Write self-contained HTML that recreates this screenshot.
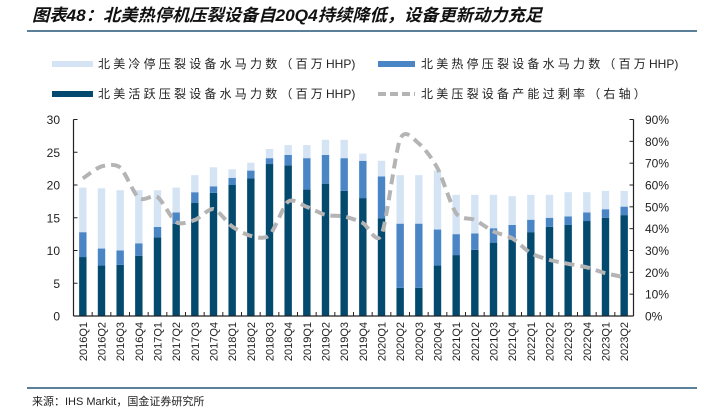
<!DOCTYPE html>
<html><head><meta charset="utf-8"><style>
html,body{margin:0;padding:0;background:#fff;}
svg text{font-family:"Liberation Sans","Noto Sans CJK SC",sans-serif;}
</style></head><body>
<svg id="c" width="704" height="412" viewBox="0 0 704 412" xmlns="http://www.w3.org/2000/svg">
<text x="32" y="21" font-size="17" font-weight="bold" font-style="italic" fill="#111" textLength="510" lengthAdjust="spacingAndGlyphs">图表48：北美热停机压裂设备自20Q4持续降低，设备更新动力充足</text>
<rect x="27" y="30" width="670" height="2" fill="#5b7f99"/>
<g font-size="12" fill="#222">
<rect x="52" y="61" width="41" height="6" fill="#d4e4f4"/>
<text x="98" y="68"><tspan letter-spacing="3.2">北美冷停压裂设备水马力数（百万</tspan>HHP)</text>
<rect x="378" y="61" width="37" height="6" fill="#4a86c5"/>
<text x="421" y="68"><tspan letter-spacing="3.2">北美热停压裂设备水马力数（百万</tspan>HHP)</text>
<rect x="52" y="91" width="41" height="6" fill="#04496e"/>
<text x="98" y="98"><tspan letter-spacing="3.2">北美活跃压裂设备水马力数（百万</tspan>HHP)</text>
<line x1="378" y1="94" x2="415" y2="94" stroke="#b4b4b4" stroke-width="4" stroke-dasharray="8,4"/>
<text x="421" y="98" letter-spacing="3.2">北美压裂设备产能过剩率（右轴）</text>
</g>
<g id="plot"></g>
<rect x="27" y="387" width="670" height="2" fill="#5b7f99"/>
<text x="32" y="405" font-size="11" fill="#222">来源：IHS Markit，国金证券研究所</text>
</svg>
<script>
const categories=["2016Q1","2016Q2","2016Q3","2016Q4","2017Q1","2017Q2","2017Q3","2017Q4","2018Q1","2018Q2","2018Q3","2018Q4","2019Q1","2019Q2","2019Q3","2019Q4","2020Q1","2020Q2","2020Q3","2020Q4","2021Q1","2021Q2","2021Q3","2021Q4","2022Q1","2022Q2","2022Q3","2022Q4","2023Q1","2023Q2"];
const activeHHP=[9.0,7.7,7.8,9.2,12.0,14.1,17.3,18.8,20.0,21.0,23.2,23.0,19.3,20.2,19.1,18.0,14.9,4.3,4.3,7.7,9.3,10.1,11.2,11.6,12.8,13.6,13.9,14.5,15.0,15.4];
const hotHHP=[3.8,2.6,2.2,1.9,1.6,1.7,1.6,1.0,1.1,1.2,0.9,1.6,4.8,4.4,5.0,5.7,6.4,9.8,9.8,5.5,3.2,2.5,2.2,2.3,1.9,1.4,1.3,1.3,1.3,1.3];
const coldHHP=[6.8,9.2,9.2,8.1,5.6,3.8,2.6,2.9,1.3,1.2,1.4,1.5,2.0,2.3,2.8,1.1,2.4,7.4,7.4,9.0,6.0,5.9,5.1,4.4,3.8,3.5,3.7,3.1,2.8,2.4];
const overcapRate=[63,68.5,68,54,54.5,43,44,49,41,36.7,37,52.4,50,46.3,45.6,42.6,37.2,81,79,67.7,47,44,38.7,35.6,28.8,25.7,23.9,22.3,19.6,17.8];
const leftTicks=[0,5,10,15,20,25,30];
const rightTicks=["0%","10%","20%","30%","40%","50%","60%","70%","80%","90%"];

const NS="http://www.w3.org/2000/svg";
const g=document.getElementById('plot');
const X0=73.5,X1=633.5,Y0=316,Y1=119.5;
const n=categories.length, step=(X1-X0)/n, bw=7.4;
const xc=i=>X0+step*(i+0.5);
const yL=v=>Y0-(v/30)*(Y0-Y1);
const yR=v=>Y0-(v/90)*(Y0-Y1);
function mk(t,a){const e=document.createElementNS(NS,t);for(const k in a)e.setAttribute(k,a[k]);g.appendChild(e);return e;}

for(let i=0;i<n;i++){
  let base=0;
  const segs=[[activeHHP[i],'#04496e','bar-active-'],[hotHHP[i],'#4a86c5','bar-hot-'],[coldHHP[i],'#d4e4f4','bar-cold-']];
  for(const s of segs){
    const r=mk('rect',{x:xc(i)-bw/2,y:yL(base+s[0]),width:bw,height:yL(base)-yL(base+s[0]),fill:s[1]});
    
    
    base+=s[0];
  }
  const t=mk('text',{x:0,y:0,'font-size':11,fill:'#222','text-anchor':'end',transform:`translate(${xc(i)+4},322) rotate(-90)`});
  t.textContent=categories[i];
  
  
}
// line (catmull-rom, reduced tension)
const pts=overcapRate.map((v,i)=>[xc(i),yR(v)]);
const k=7.5;
let d=`M${pts[0][0]},${pts[0][1]}`;
for(let i=0;i<pts.length-1;i++){
  const p0=pts[Math.max(0,i-1)],p1=pts[i],p2=pts[i+1],p3=pts[Math.min(pts.length-1,i+2)];
  d+=` C${p1[0]+(p2[0]-p0[0])/k},${p1[1]+(p2[1]-p0[1])/k} ${p2[0]-(p3[0]-p1[0])/k},${p2[1]-(p3[1]-p1[1])/k} ${p2[0]},${p2[1]}`;
}
const ln=mk('path',{d:d,fill:'none',stroke:'#b4b4b4','stroke-width':4,'stroke-dasharray':'10,6'});


// axes
const axes=[['left-axis',X0,Y1,X0,Y0],['right-axis',X1,Y1,X1,Y0],['x-axis',X0,Y0,X1,Y0]];
for(const a of axes){const l=mk('line',{x1:a[1],y1:a[2],x2:a[3],y2:a[4],stroke:'#222','stroke-width':1.2});
  
  }
for(let i=0;i<=n;i++){const x=X0+step*i;const l=mk('line',{x1:x,y1:Y0,x2:x,y2:Y0-4,stroke:'#222'});
  
  }
leftTicks.forEach(v=>{const y=yL(v);
  const l=mk('line',{x1:X0,y1:y,x2:X0+4,y2:y,stroke:'#222'});
  
  
  const t=mk('text',{x:60,y:y+4.5,'font-size':12,fill:'#222','text-anchor':'end'});t.textContent=v;
  
  });
rightTicks.forEach((s,i)=>{const y=yR(i*10);
  const l=mk('line',{x1:X1-4,y1:y,x2:X1,y2:y,stroke:'#222'});
  
  
  const t=mk('text',{x:645,y:y+4.5,'font-size':12,fill:'#222'});t.textContent=s;
  
  });
</script>
</body></html>
